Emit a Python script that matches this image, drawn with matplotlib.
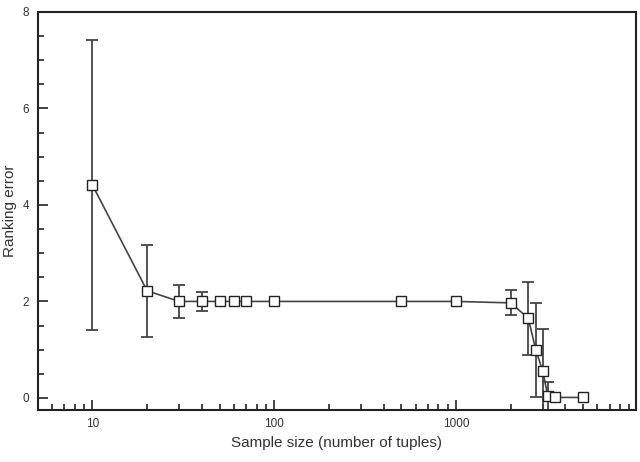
import matplotlib
matplotlib.use("Agg")
import matplotlib.pyplot as plt
from matplotlib.ticker import LogLocator, FixedLocator, MultipleLocator, NullFormatter

plt.rcParams['font.family'] = ['Liberation Sans', 'DejaVu Sans']

sample_size = [10, 20, 30, 40, 50, 60, 70, 100, 500, 1000, 2000, 2500, 2750, 3000, 3200, 3500, 5000]
ranking_error = [4.41, 2.22, 2.0, 2.0, 2.0, 2.0, 2.0, 2.0, 2.0, 2.0, 1.97, 1.65, 0.99, 0.56, 0.04, 0.01, 0.01]
error_half = [3.0, 0.95, 0.35, 0.2, 0.0, 0.0, 0.0, 0.0, 0.0, 0.0, 0.26, 0.76, 0.98, 0.86, 0.3, 0.0, 0.0]

x_ticks = [10, 100, 1000]
x_tick_labels = ["10", "100", "1000"]
y_ticks = [0, 2, 4, 6, 8]

fig = plt.figure(figsize=(6.4, 4.62), dpi=100)
ax = fig.add_axes([0.059, 0.1126, 0.935, 0.8615])

xs_e = [x for x, e in zip(sample_size, error_half) if e > 0]
ys_e = [y for y, e in zip(ranking_error, error_half) if e > 0]
es_e = [e for e in error_half if e > 0]

ax.errorbar(xs_e, ys_e, yerr=es_e, fmt='none', ecolor='#444444', elinewidth=1.3,
            capsize=4.5, capthick=1.3, zorder=2)
ax.plot(sample_size, ranking_error, color='#444444', linewidth=1.2, marker='s',
        markersize=7.5, markerfacecolor='white', markeredgecolor='#222222',
        markeredgewidth=1.0, zorder=3)

ax.set_xscale('log')
ax.set_xlim(5, 9800)
ax.set_ylim(-0.25, 8)

ax.xaxis.set_major_locator(FixedLocator(x_ticks))
ax.set_xticklabels(x_tick_labels)
ax.xaxis.set_minor_locator(LogLocator(base=10, subs=range(2, 10), numticks=20))
ax.xaxis.set_minor_formatter(NullFormatter())
ax.yaxis.set_major_locator(FixedLocator(y_ticks))
ax.yaxis.set_minor_locator(MultipleLocator(0.5))

ax.tick_params(which='both', direction='in', colors='#222222', labelcolor='#333333',
               labelsize=8.5, top=False, right=False, width=1.2)
ax.tick_params(which='major', length=7, pad=6)
ax.tick_params(which='minor', length=4)

for s in ax.spines.values():
    s.set_linewidth(1.5)
    s.set_color('#222222')

ax.set_xlabel("Sample size (number of tuples)", fontsize=11, color='#333333', labelpad=4)
ax.set_ylabel("Ranking error", fontsize=11, color='#333333', labelpad=4)

fig.savefig("out.png", dpi=100)
